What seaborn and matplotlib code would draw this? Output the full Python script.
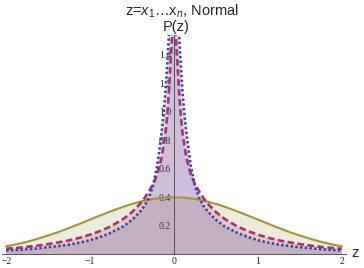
import numpy as np
import seaborn as sns
import matplotlib
matplotlib.use("Agg")
import matplotlib.pyplot as plt
from matplotlib.ticker import MultipleLocator, FixedLocator

# half-curves for z >= 0 (densities are symmetric)
z_half = [0, 0.02, 0.04, 0.06, 0.08, 0.1, 0.125, 0.15, 0.2, 0.25, 0.3, 0.35,
          0.4, 0.5, 0.6, 0.75, 0.875, 1.0, 1.125, 1.25, 1.375, 1.5, 1.625, 1.75, 1.875, 2.0]
p_n1 = [0.399, 0.399, 0.398, 0.398, 0.398, 0.397, 0.396, 0.394, 0.391, 0.387, 0.381, 0.375,
        0.368, 0.352, 0.333, 0.301, 0.272, 0.242, 0.212, 0.183, 0.155, 0.130, 0.107, 0.086, 0.069, 0.054]
p_n2 = [2.2, 1.55, 1.36, 1.15, 0.98, 0.86, 0.76, 0.67, 0.56, 0.49, 0.44, 0.395,
        0.355, 0.295, 0.248, 0.195, 0.163, 0.136, 0.114, 0.096, 0.082, 0.070, 0.059, 0.050, 0.043, 0.037]
p_n3 = [2.6, 2.0, 1.72, 1.55, 1.34, 1.15, 0.98, 0.84, 0.62, 0.48, 0.395, 0.34,
        0.30, 0.24, 0.195, 0.15, 0.121, 0.097, 0.080, 0.066, 0.056, 0.048, 0.040, 0.034, 0.029, 0.024]

x_ticks = [-2, -1, 0, 1, 2]
y_ticks = [0.2, 0.4, 0.6, 0.8, 1.0, 1.2, 1.4]

olive = "#a0953a"
magenta = "#a8336f"
blue = "#4040a8"


def mirror(vals):
    vals = np.asarray(vals, dtype=float)
    return np.concatenate([vals[:0:-1], vals])


z = np.concatenate([-np.asarray(z_half)[:0:-1], z_half])

sns.set_style("white")
plt.rcParams['font.family'] = ['Liberation Sans', 'DejaVu Sans']
plt.rcParams['mathtext.fontset'] = 'custom'
plt.rcParams['mathtext.rm'] = 'Liberation Sans'
plt.rcParams['mathtext.it'] = 'Liberation Sans:italic'

fig = plt.figure(figsize=(3.64, 2.68), dpi=100)
ax = fig.add_axes([2 / 364, 14 / 268, 344 / 364, 219 / 268])

series = [(p_n1, olive, "-", None), (p_n2, magenta, "--", (2.5, 1.3)), (p_n3, blue, ":", (0.9, 0.9))]
for vals, col, ls, dash in series:
    y = mirror(vals)
    ax.fill_between(z, 0, y, color=col, alpha=0.18, lw=0)
for vals, col, ls, dash in series:
    y = mirror(vals)
    sns.lineplot(x=z, y=y, ax=ax, color=col, sort=False, lw=1.9 if ls != "-" else 1.5)
    l = ax.lines[-1]
    if dash is not None:
        l.set_dashes(dash)
        l.set_dash_capstyle('butt')

ax.set_xlim(-2.05, 2.05)
ax.set_ylim(0, 1.54)

for s in ['top', 'right']:
    ax.spines[s].set_visible(False)
ax.spines['left'].set_position(('data', 0))
ax.spines['bottom'].set_position(('data', 0))
for s in ['left', 'bottom']:
    ax.spines[s].set_color('#555555')
    ax.spines[s].set_linewidth(0.7)

ax.xaxis.set_major_locator(FixedLocator(x_ticks))
ax.xaxis.set_minor_locator(MultipleLocator(0.2))
ax.yaxis.set_major_locator(FixedLocator(y_ticks))
ax.yaxis.set_minor_locator(MultipleLocator(0.05))
ax.set_xticklabels([str(t).replace('-', '\u2212') for t in x_ticks])
ax.set_yticklabels([f"{t:.1f}" for t in y_ticks])
ax.tick_params(which='major', direction='in', length=3.5, width=0.6, color='#555555',
               labelsize=7, pad=2, labelcolor='#222222')
ax.tick_params(which='minor', direction='in', length=2, width=0.5, color='#555555')
for lab in ax.get_xticklabels() + ax.get_yticklabels():
    lab.set_fontfamily('Liberation Serif')
ax.set_xlabel('')
ax.set_ylabel('')

fig.text(182 / 364, 1 - 11 / 268, r"z=$\mathit{x}_1$…x$_\mathit{n}$, Normal", ha='center', va='center', fontsize=10.5)
fig.text(176 / 364, 1 - 27 / 268, "P(z)", ha='center', va='center', fontsize=10.5)
fig.text(355 / 364, 1 - 253 / 268, "z", ha='center', va='center', fontsize=10.5)

plt.savefig("out.png", dpi=100)
